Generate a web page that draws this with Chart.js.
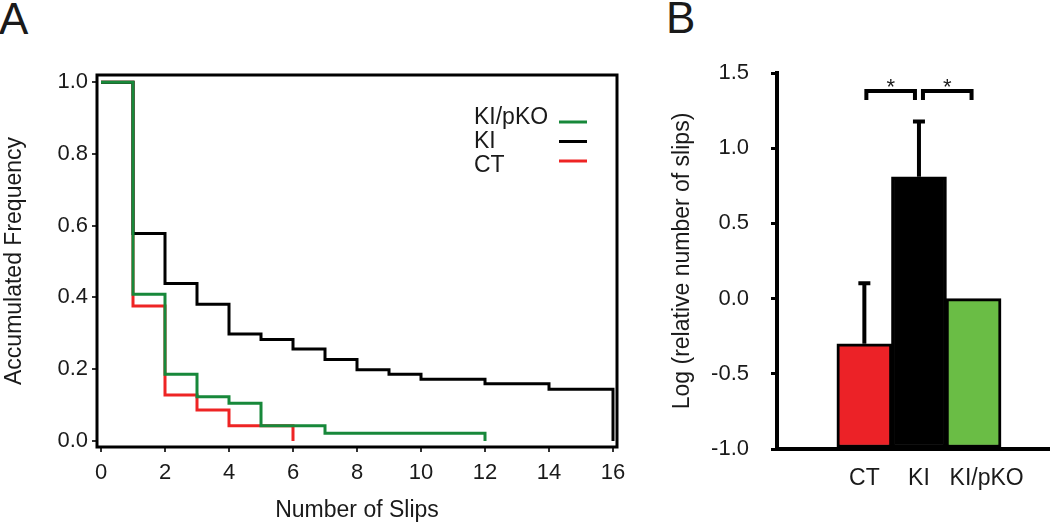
<!DOCTYPE html>
<html>
<head>
<meta charset="utf-8">
<title>Slips</title>
<script src="https://cdn.jsdelivr.net/npm/chart.js@4.4.0/dist/chart.umd.min.js"></script>
<style>
  body { margin: 0; background: #fff; overflow: hidden; width: 1050px; height: 524px; position: relative;
         font-family: "Liberation Sans", Arial, sans-serif; }
  .panel { position: absolute; font-size: 44px; line-height: 44px; color: #1a1a1a; }
  #wrapA { position: absolute; left: 0; top: 0; width: 650px; height: 524px; }
  #wrapB { position: absolute; left: 650px; top: 0; width: 400px; height: 524px; }
</style>
</head>
<body>
<div class="panel" style="left:-1px;top:-3px">A</div>
<div class="panel" style="left:666px;top:-4px">B</div>
<div id="wrapA"><canvas id="chartA"></canvas></div>
<div id="wrapB"><canvas id="chartB"></canvas></div>

<script>
// Panel A: accumulated frequency vs number of slips
var slipsKIpKO = [0, 1, 2, 3, 4, 5, 7, 12];
var freqKIpKO  = [1.0, 0.409, 0.186, 0.123, 0.105, 0.042, 0.021, 0];
var slipsKI = [0, 1, 2, 3, 4, 5, 6, 7, 8, 9, 10, 12, 14, 16];
var freqKI  = [1.0, 0.578, 0.439, 0.381, 0.298, 0.283, 0.256, 0.227, 0.198, 0.186, 0.172, 0.159, 0.144, 0];
var slipsCT = [0, 1, 2, 3, 4, 6];
var freqCT  = [1.0, 0.376, 0.128, 0.086, 0.042, 0];
var slipTicks = [0, 2, 4, 6, 8, 10, 12, 14, 16];
var freqTicks = [0, 0.2, 0.4, 0.6, 0.8, 1.0];

// Panel B: log relative number of slips
var groups   = ['CT', 'KI', 'KI/pKO'];
var logSlips = [-0.30, 0.81, 0.0];
var logErr   = [0.415, 0.38, 0];
var logTicks = [-1.0, -0.5, 0.0, 0.5, 1.0, 1.5];
var sigPairs = [[0, 1], [1, 2]];

var FONT = '"Liberation Sans", Arial, sans-serif';
var TXT = '#1a1a1a';

function pts(xs, ys) {
  return xs.map(function (x, i) { return { x: x, y: ys[i] }; });
}

// box around the plot + legend with the line sample on the right
var frameLegend = {
  id: 'frameLegend',
  beforeDatasetsDraw: function (chart) {
    var a = chart.chartArea, ctx = chart.ctx;
    ctx.save();
    ctx.strokeStyle = '#000';
    ctx.lineWidth = 3;
    ctx.strokeRect(a.left, a.top, a.right - a.left, a.bottom - a.top);
    ctx.restore();
  },
  afterDraw: function (chart) {
    var a = chart.chartArea, ctx = chart.ctx;
    ctx.save();
    ctx.font = '23px ' + FONT;
    ctx.fillStyle = TXT;
    ctx.textBaseline = 'middle';
    chart.data.datasets.forEach(function (ds, i) {
      ctx.fillText(ds.label, a.right - 143, a.top + 43 + i * 24);
      ctx.strokeStyle = ds.borderColor;
      ctx.lineWidth = 3;
      ctx.beginPath();
      ctx.moveTo(a.right - 58, a.top + 47 + i * 19.5);
      ctx.lineTo(a.right - 30, a.top + 47 + i * 19.5);
      ctx.stroke();
    });
    ctx.restore();
  }
};

new Chart(document.getElementById('chartA'), {
  type: 'line',
  data: {
    datasets: [
      { label: 'KI/pKO', data: pts(slipsKIpKO, freqKIpKO), borderColor: '#17883a', borderWidth: 3, stepped: 'before', pointRadius: 0 },
      { label: 'KI', data: pts(slipsKI, freqKI), borderColor: '#000000', borderWidth: 3, stepped: 'before', pointRadius: 0 },
      { label: 'CT', data: pts(slipsCT, freqCT), borderColor: '#ee2424', borderWidth: 3, stepped: 'before', pointRadius: 0 }
    ]
  },
  options: {
    responsive: true,
    maintainAspectRatio: false,
    animation: false,
    layout: { padding: { top: 75, right: 33, left: 0, bottom: 0 } },
    plugins: { legend: { display: false }, tooltip: { enabled: false } },
    scales: {
      x: {
        type: 'linear', min: -0.125, max: 16.125,
        afterFit: function (s) { s.height = 77; },
        afterBuildTicks: function (s) { s.ticks = slipTicks.map(function (v) { return { value: v }; }); },
        border: { display: false },
        grid: { drawOnChartArea: false, tickLength: 5, lineWidth: 2, color: '#333' },
        ticks: { color: TXT, font: { family: FONT, size: 22 }, padding: 8, autoSkip: false, maxRotation: 0 },
        title: { display: true, text: 'Number of Slips', color: TXT, font: { family: FONT, size: 23 }, padding: 0 }
      },
      y: {
        min: -0.017, max: 1.02,
        afterFit: function (s) { s.width = 97; },
        afterBuildTicks: function (s) { s.ticks = freqTicks.map(function (v) { return { value: v }; }); },
        border: { display: false },
        grid: { drawOnChartArea: false, tickLength: 5, lineWidth: 2, color: '#333' },
        ticks: { color: TXT, font: { family: FONT, size: 22 }, padding: 4, autoSkip: false,
                 callback: function (v) { return v.toFixed(1); } },
        title: { display: true, text: 'Accumulated Frequency', color: TXT, font: { family: FONT, size: 23 }, padding: { top: 1, bottom: 0 } }
      }
    }
  },
  plugins: [frameLegend]
});

// error bars and significance brackets
var barExtras = {
  id: 'barExtras',
  afterDatasetsDraw: function (chart) {
    var ctx = chart.ctx, xs = chart.scales.x, ys = chart.scales.y;
    ctx.save();
    ctx.strokeStyle = '#000';
    ctx.lineWidth = 4;
    ctx.lineCap = 'butt';
    logSlips.forEach(function (v, i) {
      if (!logErr[i]) return;
      var x = xs.getPixelForValue(i + 1);
      var y0 = ys.getPixelForValue(v);
      var y1 = ys.getPixelForValue(v + logErr[i]);
      ctx.beginPath();
      ctx.moveTo(x, y0);
      ctx.lineTo(x, y1);
      ctx.moveTo(x - 6, y1 + 2);
      ctx.lineTo(x + 6, y1 + 2);
      ctx.stroke();
    });
    var yTop = ys.getPixelForValue(1.38);
    var yLeg = ys.getPixelForValue(1.32);
    ctx.font = '22px ' + FONT;
    ctx.fillStyle = TXT;
    ctx.textAlign = 'center';
    ctx.textBaseline = 'alphabetic';
    sigPairs.forEach(function (p, i) {
      var x1 = xs.getPixelForValue(p[0] + 1) + (i > 0 ? 4 : 2);
      var x2 = xs.getPixelForValue(p[1] + 1) - (i < sigPairs.length - 1 ? 4 : 2);
      ctx.beginPath();
      ctx.moveTo(x1, yLeg);
      ctx.lineTo(x1, yTop);
      ctx.lineTo(x2, yTop);
      ctx.lineTo(x2, yLeg);
      ctx.stroke();
      ctx.fillText('*', (x1 + x2) / 2, yTop + 3);
    });
    ctx.restore();
  }
};

new Chart(document.getElementById('chartB'), {
  type: 'bar',
  data: {
    datasets: [{
      data: groups.map(function (g, i) { return { x: i + 1, y: logSlips[i] }; }),
      base: -1,
      backgroundColor: ['#ec2227', '#000000', '#6abd45'],
      borderColor: '#000',
      borderWidth: 3,
      borderSkipped: false,
      barThickness: 55
    }]
  },
  options: {
    responsive: true,
    maintainAspectRatio: false,
    animation: false,
    layout: { padding: { top: 73, right: 0, left: 0, bottom: 0 } },
    plugins: { legend: { display: false }, tooltip: { enabled: false } },
    scales: {
      x: {
        type: 'linear', min: -0.6, max: 4.4, offset: false,
        afterFit: function (s) { s.height = 75; },
        // the last label sits a little right of its bar in the original
        afterBuildTicks: function (s) {
          s.ticks = groups.map(function (g, i) { return { value: i + 1 + (i === groups.length - 1 ? 0.24 : 0) }; });
        },
        border: { display: true, width: 4, color: '#000' },
        grid: { display: false, drawTicks: false },
        ticks: { color: TXT, font: { family: FONT, size: 23 }, padding: 16, autoSkip: false, maxRotation: 0,
                 callback: function (v) { return groups[Math.round(v) - 1]; } }
      },
      y: {
        min: -1, max: 1.5,
        afterFit: function (s) { s.width = 127; },
        afterBuildTicks: function (s) { s.ticks = logTicks.map(function (v) { return { value: v }; }); },
        border: { display: true, width: 4, color: '#000' },
        grid: { drawOnChartArea: false, tickLength: 6, lineWidth: 3, color: '#000' },
        ticks: { color: TXT, font: { family: FONT, size: 22 }, padding: 22, autoSkip: false,
                 callback: function (v) { return v.toFixed(1); } },
        title: { display: true, text: 'Log (relative number of slips)', color: TXT, font: { family: FONT, size: 23 }, padding: { top: 19, bottom: 0 } }
      }
    }
  },
  plugins: [barExtras]
});
</script>
</body>
</html>
